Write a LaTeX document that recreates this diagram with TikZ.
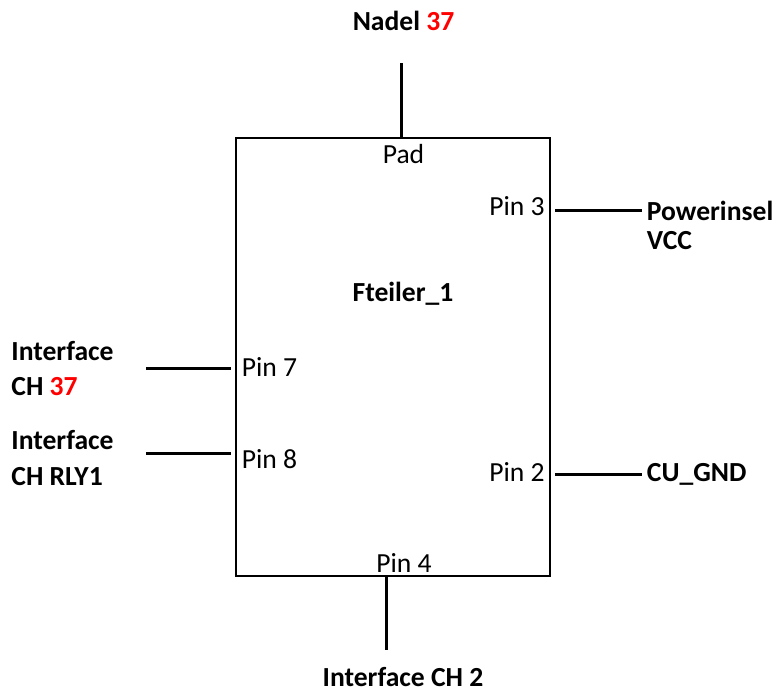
\documentclass[tikz,border=0pt]{standalone}
\usepackage{fontspec}
\setmainfont{Carlito}
\usepackage{xcolor}
\usepackage{tikz}
\definecolor{nadelrot}{HTML}{FF0000}
\tikzset{
  baustein/.style={draw, line width=1pt, inner sep=0pt, minimum width=157.25pt, minimum height=219pt},
  pinlbl/.style={inner sep=0pt, font=\fontsize{13.8}{16}\selectfont},
  netz/.style={inner sep=0pt, align=left, font=\fontsize{13.8}{#1}\selectfont\bfseries},
  netz/.default=14.5pt,
  leitung/.style={line width=1.5pt},
}

\begin{document}
\begin{tikzpicture}[x=0.5pt, y=-0.5pt]
  \useasboundingbox (0,0) rectangle (776,690);
  \node[baustein] (fteiler) at (392.75,356.6) {};
  \node[netz, anchor=base] (titel) at (403,301.7) {Fteiler\_1};
  \node[pinlbl, anchor=base] (pad) at (403.5,163.3) {Pad};
  \node[pinlbl, anchor=base east] (pin3) at (545,215.5) {Pin 3};
  \node[pinlbl, anchor=base east] (pin2) at (545,481.7) {Pin 2};
  \node[pinlbl, anchor=base west] (pin7) at (241.5,376.7) {Pin 7};
  \node[pinlbl, anchor=base west] (pin8) at (241.5,468.3) {Pin 8};
  \node[pinlbl, anchor=base] (pin4) at (404,572.3) {Pin 4};
  \node[netz, anchor=base] (nadel) at (403.5,30.7) {Nadel \textcolor{nadelrot}{37}};
  % mehrzeilig: base = Grundlinie der letzten Zeile
  \node[netz, anchor=base west] (vcc) at (646.5,249) {Powerinsel\\VCC};
  \node[netz, anchor=base west] (gnd) at (646.5,481.7) {CU\_GND};
  \node[netz=17.5pt, anchor=base west] (ch37) at (11,395.7) {Interface\\CH \textcolor{nadelrot}{37}};
  \node[netz=18pt, anchor=base west] (rly) at (11,485.3) {Interface\\CH RLY1};
  \node[netz, anchor=base] (ch2) at (403,686) {Interface CH 2};
  % freie Leitungsenden
  \coordinate (nadelend) at (401.3,63);
  \coordinate (ch2end) at (386.3,650);
  \coordinate (vccend) at (641.7,210);
  \coordinate (gndend) at (641.7,474);
  \coordinate (ch37end) at (145.7,368.3);
  \coordinate (rlyend) at (145.7,453.7);
  \draw[leitung] (nadelend |- fteiler.north) -- (nadelend);
  \draw[leitung] (ch2end |- fteiler.south) -- (ch2end);
  \foreach \e/\s in {vccend/east, gndend/east, ch37end/west, rlyend/west}
    \draw[leitung, shorten <=2pt] (\e -| fteiler.\s) -- (\e);
\end{tikzpicture}
\end{document}
